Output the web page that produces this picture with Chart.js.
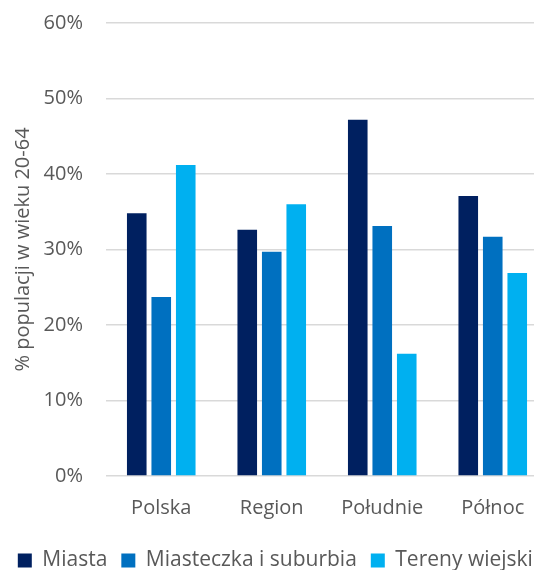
<!DOCTYPE html>
<html>
<head>
<meta charset="utf-8">
<script src="https://cdn.jsdelivr.net/npm/chart.js@4"></script>
<style>
  html, body { margin: 0; padding: 0; background: #fff; overflow: hidden; }
  #wrap { width: 534px; height: 570px; }
</style>
</head>
<body>
<div id="wrap"><canvas id="c" width="534" height="570"></canvas></div>
<script>
const categories = ["Polska", "Region", "Południe", "Północ"];
const seriesNames = ["Miasta", "Miasteczka i suburbia", "Tereny wiejskie"];
const miasta = [34.8, 32.6, 47.2, 37.1];
const miasteczka = [23.7, 29.7, 33.1, 31.7];
const tereny = [41.2, 36.0, 16.2, 26.9];
const colors = ["#002060", "#0070C0", "#00B0F0"];
const yTicks = [0, 10, 20, 30, 40, 50, 60];
const yTitle = "% populacji w wieku 20-64";

const FONT = "'Open Sans', sans-serif";
const TXT = "#595959";

// The original plot area runs past the right edge of the picture; extend it.
const EXTEND_RIGHT = 14;
const extendPlugin = {
  id: "extendRight",
  afterLayout(chart) {
    chart.chartArea.right += EXTEND_RIGHT;
    chart.chartArea.width += EXTEND_RIGHT;
    const x = chart.scales.x;
    x.right += EXTEND_RIGHT;
    x.width += EXTEND_RIGHT;
    x.configure();
  }
};

new Chart(document.getElementById("c"), {
  type: "bar",
  data: {
    labels: categories,
    datasets: [miasta, miasteczka, tereny].map((d, i) => ({
      label: seriesNames[i],
      data: d,
      backgroundColor: colors[i],
      borderWidth: 0,
      categoryPercentage: 0.665,
      barPercentage: 0.8
    }))
  },
  plugins: [extendPlugin],
  options: {
    responsive: false,
    animation: false,
    layout: { padding: { left: 0, right: -28.5, top: 23, bottom: -11 } },
    plugins: {
      tooltip: { enabled: false },
      legend: {
        position: "bottom",
        labels: {
          font: { family: FONT, size: 21 },
          color: TXT,
          boxWidth: 14,
          boxHeight: 14,
          padding: 14
        }
      }
    },
    scales: {
      x: {
        grid: { display: false, drawTicks: false },
        border: { display: false },
        ticks: { font: { family: FONT, size: 20 }, color: TXT, padding: 20, maxRotation: 0 },
        afterFit: (s) => { s.height = 60; }
      },
      y: {
        min: yTicks[0],
        max: yTicks[yTicks.length - 1],
        afterBuildTicks: (s) => { s.ticks = yTicks.map(v => ({ value: v })); },
        grid: { color: "#D9D9D9", lineWidth: 1.5, drawTicks: false },
        border: { display: false },
        ticks: { font: { family: FONT, size: 20 }, color: TXT, padding: 23, callback: v => v + "%" },
        title: { display: true, text: yTitle, font: { family: FONT, size: 20 }, color: TXT, padding: { top: 11, bottom: 0 } },
        afterFit: (s) => { s.width = 106; s.paddingTop = 0; s.paddingBottom = 0; }
      }
    }
  }
});
</script>
</body>
</html>
